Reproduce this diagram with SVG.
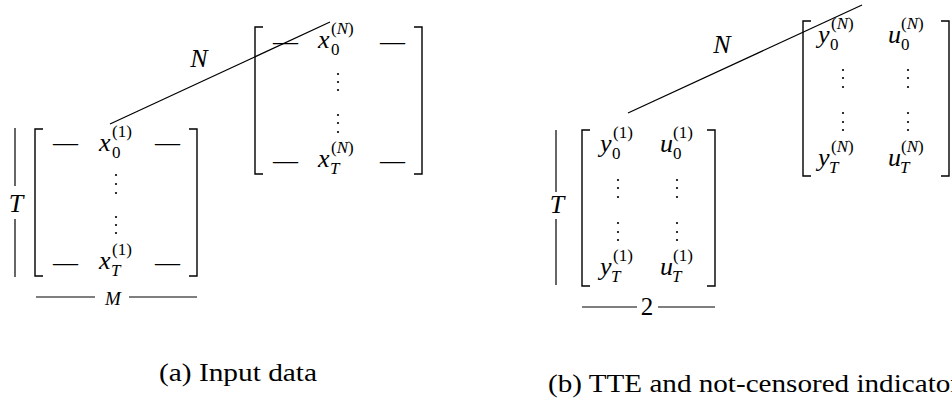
<svg xmlns="http://www.w3.org/2000/svg" width="952" height="403" viewBox="0 0 952 403">
<style>
.br{fill:none;stroke:#000;stroke-width:1.4}
.ln{fill:none;stroke:#000;stroke-width:1.2}
.dot{fill:#000}
</style>
<rect width="952" height="403" fill="#fff"/>
<g id="connectors">
<line class="ln" x1="110" y1="124" x2="330" y2="22"/>
<line class="ln" x1="628" y1="113" x2="862" y2="5"/>
</g>
<g id="a-N-label"><text font-family="Liberation Serif, serif" font-style="italic" font-size="26" x="199" y="67" text-anchor="middle">N</text></g>
<g id="a-T-label">
<line class="ln" x1="15" y1="128" x2="15" y2="186"/>
<text font-family="Liberation Serif, serif" font-style="italic" font-size="26" x="16" y="212" text-anchor="middle">T</text>
<line class="ln" x1="15" y1="219" x2="15" y2="277"/>
</g>
<g id="a-M-label">
<line class="ln" x1="36" y1="297" x2="95" y2="297"/>
<text font-family="Liberation Serif, serif" font-style="italic" font-size="19" x="113" y="305" text-anchor="middle">M</text>
<line class="ln" x1="129" y1="297" x2="197" y2="297"/>
</g>
<g id="a-matrix-1">
<path class="br" d="M43,129 H35 V276 H43"/>
<path class="br" d="M189,129 H197 V276 H189"/>
<text font-family="Liberation Serif, serif" font-size="25" x="53" y="151">&#8212;</text>
<text font-family="Liberation Serif, serif" font-style="italic" font-size="26" x="99" y="151">x</text>
<text font-family="Liberation Serif, serif" font-size="17" x="112" y="137">(1)</text>
<text font-family="Liberation Serif, serif" font-size="17" x="112" y="158">0</text>
<text font-family="Liberation Serif, serif" font-size="25" x="155" y="151">&#8212;</text>
<circle class="dot" cx="116" cy="175" r="1.1"/><circle class="dot" cx="116" cy="184" r="1.1"/><circle class="dot" cx="116" cy="193" r="1.1"/>
<circle class="dot" cx="116" cy="217" r="1.1"/><circle class="dot" cx="116" cy="225" r="1.1"/><circle class="dot" cx="116" cy="233" r="1.1"/>
<text font-family="Liberation Serif, serif" font-size="25" x="53" y="271">&#8212;</text>
<text font-family="Liberation Serif, serif" font-style="italic" font-size="26" x="99" y="269">x</text>
<text font-family="Liberation Serif, serif" font-size="17" x="112" y="255">(1)</text>
<text font-family="Liberation Serif, serif" font-style="italic" font-size="17" x="111" y="276">T</text>
<text font-family="Liberation Serif, serif" font-size="25" x="155" y="271">&#8212;</text>
</g>
<g id="a-matrix-N">
<path class="br" d="M263,27 H255 V174 H263"/>
<path class="br" d="M414,27 H422 V174 H414"/>
<text font-family="Liberation Serif, serif" font-size="25" x="273" y="50">&#8212;</text>
<text font-family="Liberation Serif, serif" font-style="italic" font-size="26" x="318" y="48">x</text>
<text font-family="Liberation Serif, serif" font-size="17" x="331" y="34">(<tspan font-style="italic">N</tspan>)</text>
<text font-family="Liberation Serif, serif" font-size="17" x="331" y="55">0</text>
<text font-family="Liberation Serif, serif" font-size="25" x="380" y="50">&#8212;</text>
<circle class="dot" cx="338" cy="74" r="1.1"/><circle class="dot" cx="338" cy="82" r="1.1"/><circle class="dot" cx="338" cy="90" r="1.1"/>
<circle class="dot" cx="338" cy="115" r="1.1"/><circle class="dot" cx="338" cy="123" r="1.1"/><circle class="dot" cx="338" cy="132" r="1.1"/>
<text font-family="Liberation Serif, serif" font-size="25" x="273" y="169">&#8212;</text>
<text font-family="Liberation Serif, serif" font-style="italic" font-size="26" x="318" y="167">x</text>
<text font-family="Liberation Serif, serif" font-size="17" x="331" y="153">(<tspan font-style="italic">N</tspan>)</text>
<text font-family="Liberation Serif, serif" font-style="italic" font-size="17" x="330" y="174">T</text>
<text font-family="Liberation Serif, serif" font-size="25" x="380" y="169">&#8212;</text>
</g>
<g id="a-caption"><text font-family="Liberation Serif, serif" font-size="25" x="159" y="381" textLength="158" lengthAdjust="spacingAndGlyphs">(a) Input data</text></g>
<g id="b-N-label"><text font-family="Liberation Serif, serif" font-style="italic" font-size="26" x="722" y="53" text-anchor="middle">N</text></g>
<g id="b-T-label">
<line class="ln" x1="556" y1="130" x2="556" y2="192"/>
<text font-family="Liberation Serif, serif" font-style="italic" font-size="26" x="557" y="213" text-anchor="middle">T</text>
<line class="ln" x1="556" y1="219" x2="556" y2="285"/>
</g>
<g id="b-2-label">
<line class="ln" x1="582" y1="307" x2="637" y2="307"/>
<text font-family="Liberation Serif, serif" font-size="25" x="647" y="315" text-anchor="middle">2</text>
<line class="ln" x1="658" y1="307" x2="715" y2="307"/>
</g>
<g id="b-matrix-1">
<path class="br" d="M590,130 H582 V286 H590"/>
<path class="br" d="M707,130 H715 V286 H707"/>
<text font-family="Liberation Serif, serif" font-style="italic" font-size="26" x="600" y="152">y</text>
<text font-family="Liberation Serif, serif" font-size="17" x="613" y="138">(1)</text>
<text font-family="Liberation Serif, serif" font-size="17" x="612" y="159">0</text>
<text font-family="Liberation Serif, serif" font-style="italic" font-size="26" x="660" y="152">u</text>
<text font-family="Liberation Serif, serif" font-size="17" x="673" y="138">(1)</text>
<text font-family="Liberation Serif, serif" font-size="17" x="673" y="159">0</text>
<circle class="dot" cx="618" cy="180" r="1.1"/><circle class="dot" cx="618" cy="188" r="1.1"/><circle class="dot" cx="618" cy="197" r="1.1"/>
<circle class="dot" cx="618" cy="223" r="1.1"/><circle class="dot" cx="618" cy="232" r="1.1"/><circle class="dot" cx="618" cy="240" r="1.1"/>
<circle class="dot" cx="677" cy="180" r="1.1"/><circle class="dot" cx="677" cy="188" r="1.1"/><circle class="dot" cx="677" cy="197" r="1.1"/>
<circle class="dot" cx="677" cy="223" r="1.1"/><circle class="dot" cx="677" cy="232" r="1.1"/><circle class="dot" cx="677" cy="240" r="1.1"/>
<text font-family="Liberation Serif, serif" font-style="italic" font-size="26" x="600" y="275">y</text>
<text font-family="Liberation Serif, serif" font-size="17" x="613" y="261">(1)</text>
<text font-family="Liberation Serif, serif" font-style="italic" font-size="17" x="611" y="282">T</text>
<text font-family="Liberation Serif, serif" font-style="italic" font-size="26" x="660" y="275">u</text>
<text font-family="Liberation Serif, serif" font-size="17" x="673" y="261">(1)</text>
<text font-family="Liberation Serif, serif" font-style="italic" font-size="17" x="672" y="282">T</text>
</g>
<g id="b-matrix-N">
<path class="br" d="M811,21 H803 V176 H811"/>
<path class="br" d="M941,21 H949 V176 H941"/>
<text font-family="Liberation Serif, serif" font-style="italic" font-size="26" x="818" y="43">y</text>
<text font-family="Liberation Serif, serif" font-size="17" x="831" y="29">(<tspan font-style="italic">N</tspan>)</text>
<text font-family="Liberation Serif, serif" font-size="17" x="830" y="50">0</text>
<text font-family="Liberation Serif, serif" font-style="italic" font-size="26" x="888" y="43">u</text>
<text font-family="Liberation Serif, serif" font-size="17" x="901" y="29">(<tspan font-style="italic">N</tspan>)</text>
<text font-family="Liberation Serif, serif" font-size="17" x="901" y="50">0</text>
<circle class="dot" cx="843" cy="70" r="1.1"/><circle class="dot" cx="843" cy="78" r="1.1"/><circle class="dot" cx="843" cy="87" r="1.1"/>
<circle class="dot" cx="843" cy="113" r="1.1"/><circle class="dot" cx="843" cy="122" r="1.1"/><circle class="dot" cx="843" cy="130" r="1.1"/>
<circle class="dot" cx="908" cy="70" r="1.1"/><circle class="dot" cx="908" cy="78" r="1.1"/><circle class="dot" cx="908" cy="87" r="1.1"/>
<circle class="dot" cx="908" cy="113" r="1.1"/><circle class="dot" cx="908" cy="122" r="1.1"/><circle class="dot" cx="908" cy="130" r="1.1"/>
<text font-family="Liberation Serif, serif" font-style="italic" font-size="26" x="818" y="166">y</text>
<text font-family="Liberation Serif, serif" font-size="17" x="831" y="152">(<tspan font-style="italic">N</tspan>)</text>
<text font-family="Liberation Serif, serif" font-style="italic" font-size="17" x="829" y="173">T</text>
<text font-family="Liberation Serif, serif" font-style="italic" font-size="26" x="888" y="166">u</text>
<text font-family="Liberation Serif, serif" font-size="17" x="901" y="152">(<tspan font-style="italic">N</tspan>)</text>
<text font-family="Liberation Serif, serif" font-style="italic" font-size="17" x="900" y="173">T</text>
</g>
<g id="b-caption"><text font-family="Liberation Serif, serif" font-size="25" x="548" y="392" textLength="412" lengthAdjust="spacingAndGlyphs">(b) TTE and not-censored indicator</text></g>
</svg>
